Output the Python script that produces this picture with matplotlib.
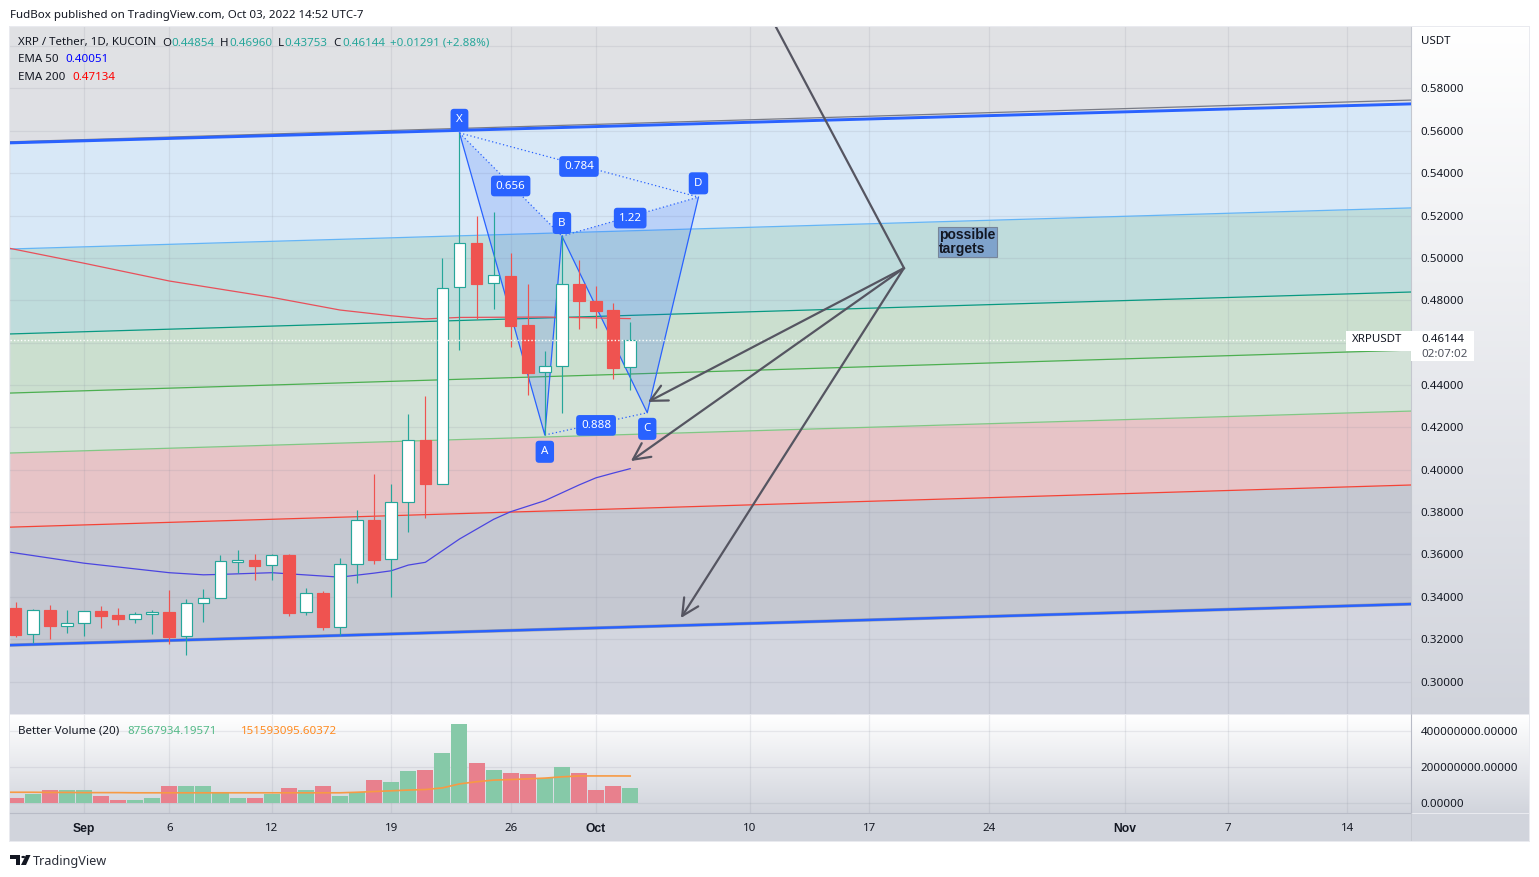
#!/usr/bin/env python3
"""XRP / Tether daily chart with fib channel and XABCD pattern"""

import numpy as np
import matplotlib
matplotlib.use('Agg')
import matplotlib.pyplot as plt
from matplotlib.colors import LinearSegmentedColormap
from matplotlib.patches import Rectangle, Polygon, Circle

W, H = 1539, 877

# daily candles, index 0 = Aug 28
opens = [.3347, .3223, .3338, .3263, .3275, .3333, .3314, .3294, .3317, .3328, .3213, .3369, .3393,
         .3566, .3574, .3549, .3597, .3327, .3418, .3259, .3553, .3763, .3577, .3846, .4140, .3934,
         .4861, .5069, .4880, .4915, .4683, .4460, .4488, .4877, .4798, .4753, .44854]
closes = [.3221, .3336, .3263, .3275, .3331, .3311, .3295, .3317, .3327, .3212, .3369, .3393, .3568,
          .3574, .3547, .3596, .3325, .3416, .3259, .3553, .3763, .3574, .3846, .4139, .3934, .4856,
          .5069, .4878, .4918, .4680, .4458, .4488, .4875, .4798, .4751, .4482, .46144]
highs = [.3375, .3342, .3361, .3338, .3333, .3356, .3346, .3327, .3338, .3432, .3388, .3435, .3597,
         .3621, .3602, .3602, .3602, .3441, .3427, .3583, .3810, .3980, .3932, .4263, .4348, .5000,
         .5590, .5198, .5217, .5022, .4877, .4560, .5103, .4990, .4867, .4786, .46960]
lows = [.3212, .3183, .3202, .3230, .3216, .3254, .3268, .3278, .3226, .3178, .3127, .3282, .3393,
        .3511, .3479, .3479, .3311, .3315, .3243, .3218, .3466, .3555, .3400, .3707, .3773, .3934,
        .4565, .4713, .4760, .4581, .4353, .4164, .4269, .4666, .4670, .4430, .43753]
# volume in millions
volumes = [33, 50, 77, 72, 72, 44, 22, 22, 33, 99, 94, 94, 61, 28, 28, 50, 88, 77, 94, 44, 66, 132,
           121, 177, 182, 281, 436, 221, 182, 166, 160, 143, 204, 166, 77, 94, 87.57]
volume_ma = [62, 62, 62, 61, 61, 60, 60, 60, 59, 59, 59, 59, 59, 59, 59, 59, 59, 59, 59, 59, 59, 62, 66,
             70, 74, 77, 86, 108, 120, 129, 132, 136, 140, 147, 152, 152, 152, 151.59]
volume_ma_x = [-0.33] + list(range(37))

ema50_x = [-0.33, 4, 9, 11, 12, 15, 19, 21, 22, 23, 24, 26, 28, 29, 31, 33, 34, 35, 36]
ema50 = [.3611, .3559, .3514, .3504, .3506, .3514, .3493, .3512, .3523, .3550, .3563, .3673, .3766,
         .3802, .3854, .3928, .3962, .3984, .40051]
ema200_x = [-0.33, 4, 9, 15, 19, 22, 24, 26, 31, 36]
ema200 = [.5045, .4975, .4891, .4814, .4754, .4727, .4712, .4719, .4721, .47134]

# channel levels at left and right edge of the pane
channel_x = [-0.33, 81.74]
channel_top = [.5543, .5727]
channel_top_thin = [.5548, .5745]
level_lightblue = [.5042, .5236]
level_teal = [.4641, .4839]
level_green = [.4362, .4565]
level_green2 = [.4079, .4277]
level_red = [.3729, .3928]
channel_bottom = [.3172, .3366]

# XABCD pattern
pattern_names = ['X', 'A', 'B', 'C', 'D']
pattern_x = [26, 31, 32, 37, 40]
pattern_y = [.5590, .4164, .5103, .4269, .5287]
pattern_ratios = ['0.888', '0.656', '0.784', '1.22']

# hand drawn arrows
arrow_pivot = (52.04, .4952)
arrow_top = (44.54, .6090)
arrow_targets = [(37.04, .4320), (36.04, .4041), (38.97, .3300)]

# .46 and .60 have a grid line but no label in the reference
price_ticks = [.30, .32, .34, .36, .38, .40, .42, .44, .46, .48, .50, .52, .54, .56, .58, .60]
hidden_price_ticks = [.46, .60]
volume_ticks = [0, 200, 400]
volume_tick_labels = ['0.00000', '200000000.00000', '400000000.00000']
time_ticks = [4, 9, 15, 22, 29, 34, 43, 50, 57, 65, 71, 78]
time_labels = ['Sep', '6', '12', '19', '26', 'Oct', '10', '17', '24', 'Nov', '7', '14']
bold_labels = ['Sep', 'Oct', 'Nov']

TEAL = '#26a69a'
RED = '#ef5350'
BLUE = '#2962ff'
TEXT = '#131722'
ARROW = '#555561'
FS = 8.3

plt.rcParams['font.family'] = ['Noto Sans', 'DejaVu Sans']


def px_axes(fig, x0, y0, x1, y1, **kw):
    return fig.add_axes([x0 / W, 1 - y1 / H, (x1 - x0) / W, (y1 - y0) / H], **kw)


def gradient(ax, top, bottom):
    cmap = LinearSegmentedColormap.from_list('bg', [top, bottom])
    ax.imshow(np.linspace(0, 1, 256)[:, None], cmap=cmap, extent=(0, 1, 0, 1),
              transform=ax.transAxes, aspect='auto', zorder=0)


def px_text(fig, x, y, s, color=TEXT, **kw):
    kw.setdefault('fontsize', FS)
    fig.text(x / W, 1 - y / H, s, color=color, va='center', **kw)


def px_rect(fig, x0, y0, x1, y1, color, zorder=5):
    fig.add_artist(Rectangle((x0 / W, 1 - y1 / H), (x1 - x0) / W, (y1 - y0) / H, transform=fig.transFigure,
                             facecolor=color, edgecolor='none', zorder=zorder))


def draw_candles(ax):
    for i, (o, c, h, l) in enumerate(zip(opens, closes, highs, lows)):
        up = c >= o
        col = TEAL if up else RED
        ax.vlines(i, l, h, color=col, lw=0.85, zorder=6)
        ax.bar(i, abs(c - o), bottom=min(o, c), width=0.68, facecolor='white' if up else col,
               edgecolor=col, linewidth=0.85, zorder=7)


def draw_channel(ax):
    bands = [(channel_top, level_lightblue, '#d8e8f7'),
             (level_lightblue, level_teal, '#bfdcdc'),
             (level_teal, level_green, '#cbdfcf'),
             (level_green, level_green2, '#d3e2d8'),
             (level_green2, level_red, '#e7c4c7'),
             (level_red, channel_bottom, '#c5c8d1')]
    for hi, lo, col in bands:
        ax.fill_between(channel_x, lo, hi, color=col, lw=0, zorder=1)
    ax.plot(channel_x, channel_top_thin, color='#787b86', lw=0.9, zorder=3)
    ax.plot(channel_x, channel_bottom, color='#787b86', lw=2.4, alpha=0.6, zorder=3)
    ax.plot(channel_x, channel_top, color=BLUE, lw=2.1, zorder=3)
    ax.plot(channel_x, channel_bottom, color=BLUE, lw=1.7, zorder=3)
    ax.plot(channel_x, level_lightblue, color='#64b5f6', lw=0.9, zorder=3)
    ax.plot(channel_x, level_teal, color='#089981', lw=0.9, zorder=3)
    ax.plot(channel_x, level_green, color='#4caf50', lw=0.9, zorder=3)
    ax.plot(channel_x, level_green2, color='#81c784', lw=0.9, zorder=3)
    ax.plot(channel_x, level_red, color='#f44336', lw=0.9, zorder=3)


def draw_pattern(ax):
    for idx in ([0, 1, 2], [2, 3, 4]):
        xs = [pattern_x[k] for k in idx]
        ys = [pattern_y[k] for k in idx]
        ax.fill(xs, ys, facecolor=BLUE, alpha=0.17, lw=0, zorder=4)
    ax.plot(pattern_x, pattern_y, color=BLUE, lw=0.9, zorder=5)

    ratio_box = dict(boxstyle='round,pad=0.42,rounding_size=0.3', facecolor=BLUE, edgecolor='none')
    name_box = dict(boxstyle='round,pad=0.48,rounding_size=0.3', facecolor=BLUE, edgecolor='none')
    # ratio lines, label sits on the middle of the line
    pairs = [(1, 3), (0, 2), (0, 4), (2, 4)]
    for (a, b), txt in zip(pairs, pattern_ratios):
        ax.plot([pattern_x[a], pattern_x[b]], [pattern_y[a], pattern_y[b]], color=BLUE, lw=0.9,
                ls=(0, (1, 2)), zorder=5)
        ax.text((pattern_x[a] + pattern_x[b]) / 2, (pattern_y[a] + pattern_y[b]) / 2, txt, color='white',
                fontsize=FS, ha='center', va='center_baseline', bbox=ratio_box, zorder=9)
    offsets = [10.5, -11, 10.5, -10.5, 11]
    for name, x, y, off in zip(pattern_names, pattern_x, pattern_y, offsets):
        ax.annotate(name, (x, y), xytext=(0, off), textcoords='offset points', color='white', fontsize=FS,
                    ha='center', va='center_baseline', bbox=name_box, zorder=9)


def draw_arrows(ax):
    ax.plot([arrow_top[0], arrow_pivot[0]], [arrow_top[1], arrow_pivot[1]], color=ARROW, lw=1.6, zorder=8)
    for target in arrow_targets:
        ax.annotate('', xy=target, xytext=arrow_pivot, zorder=8,
                    arrowprops=dict(arrowstyle='->,head_length=1.0,head_width=0.5', mutation_scale=12,
                                    color=ARROW, lw=1.6, shrinkA=0, shrinkB=0))


def draw_logo(fig):
    def poly(points):
        pts = [(x / W, 1 - y / H) for x, y in points]
        fig.add_artist(Polygon(pts, closed=True, transform=fig.transFigure, facecolor=TEXT, edgecolor='none'))
    poly([(10, 855), (20, 855), (20, 865), (15.5, 865), (15.5, 859), (10, 859)])
    poly([(26, 855), (30.5, 855), (26, 865), (21, 865)])
    fig.add_artist(Circle((23.3 / W, 1 - 857 / H), 2.0 / W, transform=fig.transFigure, facecolor=TEXT,
                          edgecolor='none'))


def main():
    fig = plt.figure(figsize=(W / 100, H / 100), dpi=100, facecolor='white')

    # chart frame and right/bottom scale backgrounds
    px_rect(fig, 9, 26, 1530, 842, '#e9eaef', zorder=-1)
    side = px_axes(fig, 1411, 27, 1529, 714)
    gradient(side, '#ffffff', '#d1d4dc')
    side.axis('off')
    side_vol = px_axes(fig, 1411, 715, 1529, 813)
    gradient(side_vol, '#ffffff', '#d1d4dc')
    side_vol.axis('off')
    px_rect(fig, 10, 814, 1529, 841, '#d1d4dc', zorder=-1)

    # price pane
    ax = px_axes(fig, 10, 27, 1411, 714)
    gradient(ax, '#e1e2e5', '#d2d5df')
    draw_channel(ax)
    draw_pattern(ax)
    ax.plot(ema200_x, ema200, color='#e8505a', lw=0.9, zorder=5)
    ax.plot(ema50_x, ema50, color='#4b45e0', lw=0.9, zorder=5)
    draw_candles(ax)
    ax.axhline(closes[-1], color='white', lw=1, ls=(0, (1, 1.5)), zorder=8)
    draw_arrows(ax)
    ax.text(54.1, .5075, 'possible\ntargets', color=TEXT, fontsize=10, fontweight='bold',
            family='Liberation Sans', ha='left', va='center', linespacing=1.0, zorder=9,
            bbox=dict(boxstyle='square,pad=0.1', facecolor='#7fa3cc', edgecolor='#77869a', linewidth=0.8))

    ax.set_xlim(channel_x)
    ax.set_ylim(.2847, .6090)
    ax.set_xticks(time_ticks)
    ax.set_xticklabels([])
    ax.set_yticks(price_ticks)
    ax.set_yticklabels(['' if p in hidden_price_ticks else '%.5f' % p for p in price_ticks],
                       fontsize=FS, color=TEXT)
    ax.yaxis.tick_right()
    ax.tick_params(length=0, pad=7)
    ax.grid(True, color='#8a8f9e', alpha=0.16, lw=0.9, zorder=2)
    ax.set_axisbelow(False)
    for gl in ax.get_xgridlines() + ax.get_ygridlines():
        gl.set_zorder(2)
    for name, spine in ax.spines.items():
        spine.set_visible(name == 'right')
    ax.spines['right'].set_color('#c4c7cf')

    # volume pane
    vol = px_axes(fig, 10, 715, 1411, 813)
    gradient(vol, '#ffffff', '#d1d4dc')
    days = np.arange(len(volumes))
    vol_colors = ['#86c9a8' if c >= o else '#e8808d' for o, c in zip(opens, closes)]
    vol.bar(days, volumes, width=0.94, color=vol_colors, zorder=3)
    vol.plot(volume_ma_x, volume_ma, color='#f79a44', lw=1.2, zorder=4)
    vol.set_xlim(channel_x)
    vol.set_ylim(-52.4, 488)
    vol.set_xticks(time_ticks)
    vol.set_xticklabels(time_labels, fontsize=FS, color=TEXT)
    for lab, txt in zip(vol.get_xticklabels(), time_labels):
        if txt in bold_labels:
            lab.set_fontweight('bold')
            lab.set_family('Liberation Sans')
            lab.set_fontsize(FS + 0.4)
    vol.set_yticks(volume_ticks)
    vol.set_yticklabels(volume_tick_labels, fontsize=FS, color=TEXT)
    vol.yaxis.tick_right()
    vol.tick_params(axis='y', length=0, pad=7)
    vol.tick_params(axis='x', length=0, pad=7.2)
    vol.grid(True, color='#8a8f9e', alpha=0.16, lw=0.9, zorder=2)
    for gl in vol.get_xgridlines() + vol.get_ygridlines():
        gl.set_zorder(2)
    for name, spine in vol.spines.items():
        spine.set_visible(name in ('right', 'bottom'))
        spine.set_color('#b8bbc6')
    px_rect(fig, 1411, 813, 1412, 841, '#c4c7cf')

    # header + legends
    px_text(fig, 10, 15.5, 'FudBox published on TradingView.com, Oct 03, 2022 14:52 UTC-7')
    px_text(fig, 1421, 41, 'USDT')
    px_text(fig, 18, 43, 'XRP / Tether, 1D, KUCOIN')
    for x, key, val in [(162, 'O', '0.44854'), (220, 'H', '0.46960'), (278, 'L', '0.43753'), (333.5, 'C', '0.46144')]:
        px_text(fig, x, 43, key)
        px_text(fig, x + (6.5 if key == 'L' else 9), 43, val, color=TEAL)
    px_text(fig, 390, 43, '+0.01291 (+2.88%)', color=TEAL)
    px_text(fig, 18, 60, 'EMA 50')
    px_text(fig, 65, 60, '0.40051', color='#0000ff')
    px_text(fig, 18, 77, 'EMA 200')
    px_text(fig, 72, 77, '0.47134', color='#ff0000')
    px_text(fig, 18, 731, 'Better Volume (20)')
    px_text(fig, 127, 731, '87567934.19571', color='#53b987')
    px_text(fig, 241, 731, '151593095.60372', color='#ff8a1f')

    # last price tag
    px_rect(fig, 1346, 331, 1411, 351, 'white')
    px_rect(fig, 1411, 331, 1474, 361, 'white')
    px_text(fig, 1352, 340, 'XRPUSDT', zorder=6)
    px_text(fig, 1421, 340, '0.46144', zorder=6)
    px_text(fig, 1421, 354.5, '02:07:02', color='#50535e', zorder=6)

    draw_logo(fig)
    px_text(fig, 33, 861, 'TradingView', fontsize=9.1, color='#2a2e39')

    fig.savefig('out.png', dpi=100)


if __name__ == '__main__':
    main()
